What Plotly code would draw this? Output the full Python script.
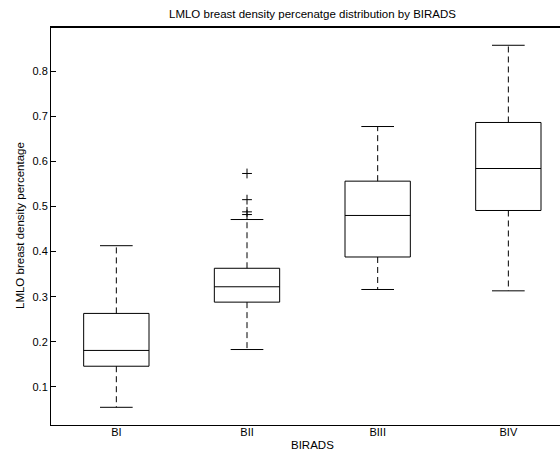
import plotly.graph_objects as go

categories = ["BI", "BII", "BIII", "BIV"]
q1 = [0.146, 0.288, 0.388, 0.491]
median = [0.181, 0.322, 0.480, 0.584]
q3 = [0.263, 0.363, 0.556, 0.686]
lower_whisker = [0.055, 0.183, 0.316, 0.313]
upper_whisker = [0.413, 0.471, 0.677, 0.857]
outliers = [[], [0.573, 0.515, 0.488, 0.482], [], []]

BOX_HALF = 0.25
CAP_HALF = 0.125
FONT = "Liberation Sans, Arial, Helvetica, sans-serif"

pos = list(range(1, len(categories) + 1))

box_x, box_y = [], []
med_x, med_y = [], []
cap_x, cap_y = [], []
wh_x, wh_y = [], []
out_x, out_y = [], []
for i, p in enumerate(pos):
    box_x += [p - BOX_HALF, p + BOX_HALF, p + BOX_HALF, p - BOX_HALF, p - BOX_HALF, None]
    box_y += [q1[i], q1[i], q3[i], q3[i], q1[i], None]
    med_x += [p - BOX_HALF, p + BOX_HALF, None]
    med_y += [median[i], median[i], None]
    cap_x += [p - CAP_HALF, p + CAP_HALF, None, p - CAP_HALF, p + CAP_HALF, None]
    cap_y += [lower_whisker[i], lower_whisker[i], None, upper_whisker[i], upper_whisker[i], None]
    wh_x += [p, p, None, p, p, None]
    wh_y += [q3[i], upper_whisker[i], None, q1[i], lower_whisker[i], None]
    for o in outliers[i]:
        out_x.append(p)
        out_y.append(o)

L, R, T, B = 51, 0, 27, 28
W, H = 560, 453
plot_w = W - L - R
px_per_unit = 130.67
plot_h = H - T - B
X_RANGE = [0.5, 0.5 + plot_w / px_per_unit]
Y_RANGE = [0.0158, 0.8975]
px_y = (Y_RANGE[1] - Y_RANGE[0]) / plot_h

line_style = dict(color="black", width=1)
fig = go.Figure()
fig.add_trace(go.Scatter(x=wh_x, y=wh_y, mode="lines",
                         line=dict(color="black", width=1, dash="6px,4px"),
                         hoverinfo="skip"))
fig.add_trace(go.Scatter(x=cap_x, y=cap_y, mode="lines", line=line_style, hoverinfo="skip"))
fig.add_trace(go.Scatter(x=box_x, y=box_y, mode="lines", line=line_style, hoverinfo="skip"))
fig.add_trace(go.Scatter(x=med_x, y=med_y, mode="lines", line=line_style, hoverinfo="skip"))
fig.add_trace(go.Scatter(x=out_x, y=out_y, mode="markers",
                         marker=dict(symbol="cross-thin", size=7,
                                     line=dict(color="black", width=1)),
                         hoverinfo="skip"))
# top frame line of the axes box
fig.add_trace(go.Scatter(x=X_RANGE, y=[Y_RANGE[1] - 0.5 * px_y] * 2, mode="lines",
                         line=dict(color="black", width=1), cliponaxis=False,
                         hoverinfo="skip"))

fig.update_layout(
    width=W, height=H,
    margin=dict(l=L, r=R, t=T, b=B),
    paper_bgcolor="white", plot_bgcolor="white",
    showlegend=False,
    font=dict(family=FONT, size=11, color="black"),
    xaxis=dict(range=X_RANGE,
               tickmode="array", tickvals=pos, ticktext=categories,
               ticks="", showgrid=False, zeroline=False,
               showline=True, linecolor="black", linewidth=1, mirror=True,
               ticklabelstandoff=-3,
               tickfont=dict(size=11), fixedrange=True),
    yaxis=dict(range=Y_RANGE,
               tickmode="array", tickvals=[0.1, 0.2, 0.3, 0.4, 0.5, 0.6, 0.7, 0.8],
               ticktext=["0.1", "0.2", "0.3", "0.4", "0.5", "0.6", "0.7", "0.8"],
               ticks="inside", ticklen=5, tickcolor="black", tickwidth=1,
               showgrid=False, zeroline=False,
               showline=True, linecolor="black", linewidth=1, mirror=False,
               tickfont=dict(size=11), fixedrange=True),
    annotations=[
        dict(text="LMLO breast density percenatge distribution by BIRADS",
             xref="paper", yref="paper",
             x=(312 - L) / plot_w, y=1 + (T - 14) / plot_h,
             xanchor="center", yanchor="middle", showarrow=False,
             font=dict(size=11.5)),
        dict(text="BIRADS", xref="paper", yref="paper",
             x=(312 - L) / plot_w, y=-(445 - (H - B)) / plot_h,
             xanchor="center", yanchor="middle", showarrow=False,
             font=dict(size=11.5)),
        dict(text="LMLO breast density percentage", xref="paper", yref="paper",
             x=(20 - L) / plot_w, y=0.5, textangle=-90,
             xanchor="center", yanchor="middle", showarrow=False,
             font=dict(size=11.5)),
    ],
)

fig.write_html("out.html", config={"displayModeBar": False})
